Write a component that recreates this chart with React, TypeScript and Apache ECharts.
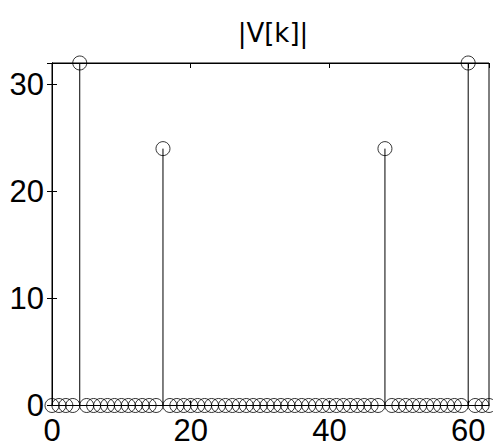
import React, { useEffect, useRef } from "react";
import * as echarts from "echarts";

// DFT magnitude |V[k]| for k = 0..63
const kIndex: number[] = Array.from({ length: 64 }, (_, i) => i);
const peakBins: number[] = [4, 16, 48, 60];
const peakValues: number[] = [32, 24, 24, 32];
const magnitude: number[] = kIndex.map((k) => {
  const p = peakBins.indexOf(k);
  return p >= 0 ? peakValues[p] : 0;
});
const xTicks: number[] = [0, 20, 40, 60];
const yTicks: number[] = [0, 10, 20, 30];
const titleText = "|V[k]|";

export default function App() {
  const ref = useRef<HTMLDivElement>(null);
  useEffect(() => {
    if (!ref.current) return;
    document.body.style.margin = "0";
    document.body.style.overflow = "hidden";
    const chart = echarts.init(ref.current, undefined, { renderer: "svg" });
    const points = kIndex.map((k, i) => [k, magnitude[i]]);
    const labelFont = {
      fontFamily: "Liberation Sans, Arial, sans-serif",
      fontSize: 31,
      color: "#000",
    };
    chart.setOption({
      animation: false,
      backgroundColor: "#fff",
      title: {
        text: titleText,
        left: 268,
        textAlign: "center",
        top: 15,
        textStyle: {
          fontFamily: "DejaVu Sans",
          fontWeight: "normal",
          fontSize: 26,
          color: "#000",
        },
      },
      grid: {
        left: 52,
        top: 63,
        width: 437,
        height: 345,
        show: true,
        borderColor: "#000",
        borderWidth: 1,
        backgroundColor: "transparent",
      },
      xAxis: [
        {
          type: "value",
          min: 0,
          max: 63,
          interval: 20,
          axisLine: { show: true, onZero: false, lineStyle: { color: "#000", width: 1 } },
          axisTick: { show: true, inside: true, length: 5, lineStyle: { color: "#000" } },
          axisLabel: {
            ...labelFont,
            margin: 25,
            verticalAlign: "middle",
            showMaxLabel: false,
            formatter: (v: number) => (xTicks.includes(v) ? String(v) : ""),
          },
          splitLine: { show: false },
        },
        {
          type: "value",
          position: "top",
          min: 0,
          max: 63,
          interval: 20,
          axisLine: { show: true, onZero: false, lineStyle: { color: "#000", width: 1 } },
          axisTick: { show: true, inside: true, length: 5, lineStyle: { color: "#000" } },
          axisLabel: { show: false },
          splitLine: { show: false },
        },
      ],
      yAxis: [
        {
          type: "value",
          min: 0,
          max: 32,
          interval: 10,
          axisLine: { show: true, lineStyle: { color: "#000", width: 1 } },
          axisTick: { show: true, inside: true, length: 5, lineStyle: { color: "#000" } },
          axisLabel: {
            ...labelFont,
            margin: 8,
            showMaxLabel: false,
            formatter: (v: number) => (yTicks.includes(v) ? String(v) : ""),
          },
          splitLine: { show: false },
        },
        {
          type: "value",
          position: "right",
          min: 0,
          max: 32,
          interval: 10,
          axisLine: { show: true, lineStyle: { color: "#000", width: 1 } },
          axisTick: { show: true, inside: true, length: 5, lineStyle: { color: "#000" } },
          axisLabel: { show: false },
          splitLine: { show: false },
        },
      ],
      series: [
        {
          type: "custom",
          xAxisIndex: 0,
          yAxisIndex: 0,
          clip: false,
          silent: true,
          data: points,
          renderItem: (params: any, api: any) => {
            const k = api.value(0);
            const v = api.value(1);
            const base = api.coord([k, 0]);
            const top = api.coord([k, v]);
            return {
              type: "line",
              shape: { x1: base[0], y1: base[1], x2: top[0], y2: top[1] },
              style: { stroke: "#000", lineWidth: 1 },
            };
          },
        },
        {
          type: "scatter",
          xAxisIndex: 0,
          yAxisIndex: 0,
          clip: false,
          silent: true,
          data: points,
          symbol: "circle",
          symbolSize: 14,
          itemStyle: { color: "transparent", borderColor: "#000", borderWidth: 1 },
        },
      ],
    });
    return () => chart.dispose();
  }, []);
  return (
    <div
      ref={ref}
      style={{ position: "absolute", left: 0, top: 0, width: 493, height: 446 }}
    />
  );
}
